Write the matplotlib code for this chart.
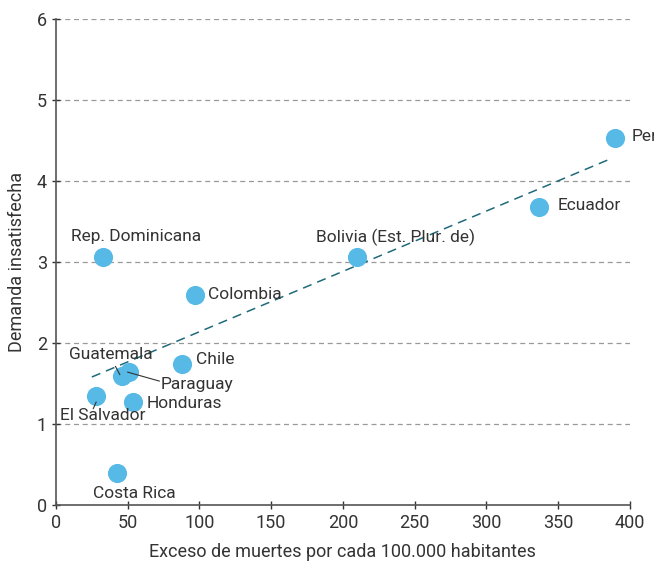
import numpy as np
import matplotlib
matplotlib.use('Agg')
import matplotlib.pyplot as plt

plt.rcParams['font.family'] = ['Roboto', 'DejaVu Sans']

# 데이터
paises = ['Perú', 'Ecuador', 'Bolivia (Est. Plur. de)', 'Rep. Dominicana', 'Colombia', 'Chile',
          'Guatemala', 'Paraguay', 'Honduras', 'El Salvador', 'Costa Rica']
exceso = [390, 337, 210, 33, 97, 88, 46, 51, 54, 28, 42.5]
demanda = [4.53, 3.68, 3.06, 3.06, 2.59, 1.74, 1.59, 1.64, 1.27, 1.35, 0.40]

# 추세선
tendencia_x = [25, 386]
tendencia_pendiente = 0.00745
tendencia_intercepto = 1.394

# 라벨 위치 (x, y, ha, 리더선 여부)
etiquetas = {
    'Perú': (401, 4.55, 'left', False),
    'Ecuador': (350, 3.70, 'left', False),
    'Bolivia (Est. Plur. de)': (237, 3.31, 'center', False),
    'Rep. Dominicana': (55.7, 3.31, 'center', False),
    'Colombia': (106, 2.60, 'left', False),
    'Chile': (97.6, 1.80, 'left', False),
    'Guatemala': (38, 1.86, 'center', True),
    'Paraguay': (73, 1.49, 'left', True),
    'Honduras': (63.4, 1.25, 'left', False),
    'El Salvador': (32.7, 1.11, 'center', True),
    'Costa Rica': (54.4, 0.14, 'center', False),
}

fig = plt.figure(figsize=(6.54, 5.71), dpi=100)
ax = fig.add_axes([0.0856, 0.1156, 0.8774, 0.8511])

ax.scatter(exceso, demanda, s=190, color='#56B9E6', zorder=3, linewidths=0)

xs = np.array(tendencia_x)
ax.plot(xs, tendencia_pendiente * xs + tendencia_intercepto, color='#1F6A7A', lw=1.1,
        dashes=(6, 4), zorder=2)

for p, x, y in zip(paises, exceso, demanda):
    tx, ty, ha, linea = etiquetas[p]
    ax.text(tx, ty, p, ha=ha, va='center', fontsize=12.5, color='#333333', zorder=4)
    if linea:
        if p == 'Guatemala':
            ax.plot([x - 4.5, x - 1.5], [ty - 0.15, y + 0.02], color='#333333', lw=0.8, zorder=4)
        elif p == 'Paraguay':
            ax.plot([x - 1, tx - 1], [y, ty + 0.04], color='#333333', lw=0.8, zorder=4)
        else:
            ax.plot([x - 2, x], [ty + 0.08, y - 0.08], color='#333333', lw=0.8, zorder=4)

ax.set_xlim(0, 400)
ax.set_ylim(0, 6)
ax.set_xticks(range(0, 401, 50))
ax.set_yticks(range(0, 7))
ax.yaxis.grid(True, color='#999999', linestyle=(0, (4, 3)), lw=0.9)
ax.set_axisbelow(True)

for s in ['top', 'right']:
    ax.spines[s].set_visible(False)
for s in ['left', 'bottom']:
    ax.spines[s].set_color('#555555')
    ax.spines[s].set_linewidth(1.2)
ax.tick_params(colors='#333333', labelsize=13, length=6, direction='inout', width=1)

ax.set_xlabel('Exceso de muertes por cada 100.000 habitantes', fontsize=13, color='#333333', labelpad=8)
ax.set_ylabel('Demanda insatisfecha', fontsize=13, color='#333333', labelpad=8)

fig.savefig('out.png', dpi=100)
